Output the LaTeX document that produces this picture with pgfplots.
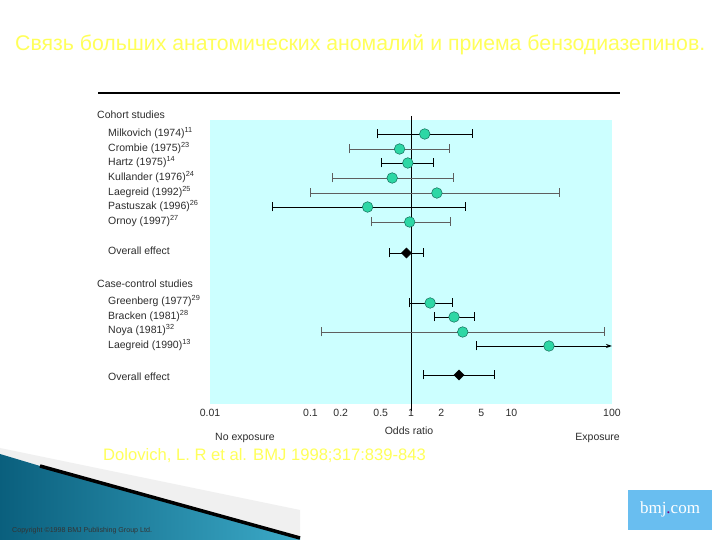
\documentclass[border=0pt]{standalone}
\usepackage{fontspec}
\setmainfont{Liberation Sans}
\newfontfamily\serifbmj{Liberation Serif}
\usepackage{pgfplots}
\pgfplotsset{compat=1.18}
\usetikzlibrary{arrows.meta}

\definecolor{panel}{RGB}{204,255,255}
\definecolor{dotfill}{RGB}{45,215,165}
\definecolor{dotline}{RGB}{20,110,90}
\definecolor{cigrey}{RGB}{95,95,95}
\definecolor{txt}{RGB}{45,45,45}
\definecolor{slideyellow}{RGB}{255,255,90}
\definecolor{tealdark}{RGB}{10,95,125}
\definecolor{teallight}{RGB}{60,170,200}
\definecolor{bmjblue}{RGB}{105,190,240}

\begin{document}
\begin{tikzpicture}[x=1pt,y=1pt]
  % slide background (y is 540 - pixel row)
  \fill[white] (0,0) rectangle (720,540);

  % title and rule
  \node[anchor=west,text=slideyellow,inner sep=0] at (15,495)
    {\resizebox{690pt}{!}{Связь больших анатомических аномалий и приема бензодиазепинов.}};
  \draw[line width=1.2pt] (98,447) -- (620,447);

  % row labels
  \begin{scope}[every node/.style={anchor=west,inner sep=0,text=txt,font=\fontsize{10.5}{12}\selectfont}]
    \node at (97,425) {Cohort studies};
    \node at (108,407) {Milkovich (1974)\textsuperscript{11}};
    \node at (108,392) {Crombie (1975)\textsuperscript{23}};
    \node at (108,378) {Hartz (1975)\textsuperscript{14}};
    \node at (108,363) {Kullander (1976)\textsuperscript{24}};
    \node at (108,348) {Laegreid (1992)\textsuperscript{25}};
    \node at (108,334) {Pastuszak (1996)\textsuperscript{26}};
    \node at (108,319) {Ornoy (1997)\textsuperscript{27}};
    \node at (108,289) {Overall effect};
    \node at (97,256) {Case-control studies};
    \node at (108,239) {Greenberg (1977)\textsuperscript{29}};
    \node at (108,224) {Bracken (1981)\textsuperscript{28}};
    \node at (108,210) {Noya (1981)\textsuperscript{32}};
    \node at (108,195) {Laegreid (1990)\textsuperscript{13}};
    \node at (108,163) {Overall effect};
  \end{scope}

  \begin{axis}[
      at={(210pt,136pt)}, anchor=south west,
      scale only axis, width=402pt, height=284pt,
      xmode=log, xmin=0.01, xmax=100,
      ymin=120, ymax=404, y dir=reverse,
      axis background/.style={fill=panel},
      axis line style={draw=none},
      major tick length=0pt, ytick=\empty,
      xtick={0.01,0.1,0.2,0.5,1,2,5,10,100},
      xticklabels={0.01,0.1,0.2,0.5,1,2,5,10,100},
      xticklabel style={text=txt,font=\fontsize{10.5}{12}\selectfont,yshift=-2pt},
      /pgf/number format/assume math mode=true,
      clip=false,
      ci/.style={line width=0.8pt,arrows={Bar[width=9pt]-Bar[width=9pt]}},
      study/.style={only marks,mark=*,mark size=5.3pt,
        mark options={fill=dotfill,draw=dotline,line width=0.5pt}},
      pooled/.style={only marks,mark=square*,mark size=3.6pt,
        mark options={fill=black,draw=black,rotate=45}},
    ]
    % line of no effect
    \addplot[black,line width=0.9pt] coordinates {(1,116) (1,411)};

    % cohort studies: confidence intervals
    \addplot[ci,black]  coordinates {(0.457,134) (4.14,134)};
    \addplot[ci,cigrey] coordinates {(0.24,149) (2.45,149)};
    \addplot[ci,black]  coordinates {(0.50,163) (1.69,163)};
    \addplot[ci,cigrey] coordinates {(0.163,178) (2.65,178)};
    \addplot[ci,cigrey] coordinates {(0.10,193) (30,193)};
    \addplot[ci,black]  coordinates {(0.041,207) (3.53,207)};
    \addplot[ci,cigrey] coordinates {(0.40,222) (2.47,222)};
    \addplot[ci,black]  coordinates {(0.61,253) (1.35,253)};

    % case-control studies: confidence intervals
    \addplot[ci,black]  coordinates {(0.95,303) (2.62,303)};
    \addplot[ci,black]  coordinates {(1.69,317) (4.33,317)};
    \addplot[ci,cigrey] coordinates {(0.128,332) (84,332)};
    \addplot[black,line width=0.8pt,arrows={Bar[width=9pt]-Stealth[length=6pt,width=4pt]}]
      coordinates {(4.4,346) (100,346)};
    \addplot[ci,black]  coordinates {(1.32,375) (6.84,375)};

    % point estimates
    \addplot[study] coordinates {
      (1.37,134) (0.77,149) (0.93,163) (0.65,178) (1.81,193) (0.37,207) (0.97,222)
      (1.55,303) (2.68,317) (3.27,332) (23.6,346)
    };
    \addplot[pooled] coordinates {(0.90,253) (3.01,375)};
  \end{axis}

  % axis captions
  \begin{scope}[every node/.style={inner sep=0,text=txt,font=\fontsize{10.5}{12}\selectfont}]
    \node at (409,109) {Odds ratio};
    \node[anchor=west] at (215,102) {No exposure};
    \node[anchor=east] at (620,102) {Exposure};
  \end{scope}

  % citation
  \node[anchor=west,text=slideyellow,inner sep=0,font=\fontsize{16.6}{18}\selectfont]
    at (103,84) {Dolovich, L. R et al. BMJ 1998;317:839-843};

  % corner decoration
  \fill[gray!12] (0,92) -- (300,30) -- (300,0) -- (0,0) -- cycle;
  \shade[left color=tealdark,right color=teallight]
    (0,86) -- (40,74) -- (300,2) -- (300,0) -- (0,0) -- cycle;
  \draw[black,line width=3.5pt] (40,74) -- (300,2);
  \node[anchor=west,inner sep=0,text=black!80,font=\fontsize{7.1}{8}\selectfont]
    at (12,9) {Copyright ©1998 BMJ Publishing Group Ltd.};

  % bmj.com badge
  \fill[bmjblue] (628,10) rectangle (712,50);
  \node[text=white,inner sep=0,font=\serifbmj\fontsize{17}{18}\selectfont] at (670,31)
    {bmj\textcolor{violet}{.}com};
\end{tikzpicture}
\end{document}
